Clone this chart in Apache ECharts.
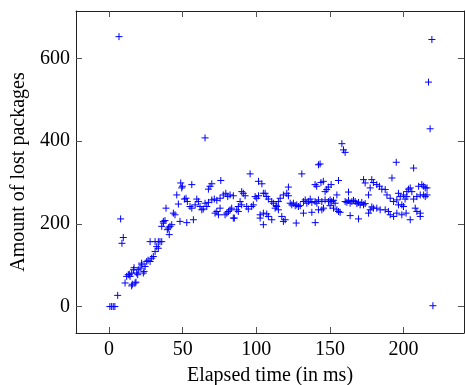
<!DOCTYPE html>
<html>
<head>
<meta charset="utf-8">
<script src="https://cdn.jsdelivr.net/npm/echarts@6/dist/echarts.min.js"></script>
<style>html,body{margin:0;padding:0;background:#fff}#c{width:465px;height:385px}</style>
</head>
<body>
<div id="c"></div>
<script>
const xTitle = "Elapsed time (in ms)";
const yTitle = "Amount of lost packages";
const xTicks = [0, 50, 100, 150, 200];
const yTicks = [0, 200, 400, 600];
const xRange = [-22.4, 241];
const yRange = [-64, 715];

const elapsedMs = [0.6,1.8,2.9,4,5.9,6.8,7.9,8.8,9.7,
10.9,12,13.1,13.8,14.3,15.4,15.4,15.8,16.6,17,17.7,18.3,18.8,19.5,19.9,21.1,22.2,22.2,23.3,23.8,24.5,25.6,26.5,27.9,27.9,29,30.1,31.3,31.3,32.4,33.5,33.5,34.6,35.8,35.8,36.9,36.9,38,38.7,39.6,40.3,40.9,41.4,42.6,43.7,44.8,46,47.1,48.2,48.7,49.4,49.8,
51.2,52.3,52.8,53.2,55,56.2,56.2,57.3,58.5,59.6,60.7,61.8,63,64,65.2,65.2,66.4,67.5,67.5,68.6,69.8,69.8,71.5,72,73.2,73.2,74.3,75.4,75.4,75.9,77.6,78.8,79.3,80,80.6,81.1,82.2,82.2,83.3,84.4,84.4,85.1,86.7,87.8,87.8,89,90.1,90.1,91.2,92.4,93.5,94.6,95.8,96.9,98,99.2,
100.3,101.5,101.5,102.6,102.6,103.8,104.8,104.8,104.8,106,107.1,107.1,108.2,108.2,110.5,110.5,111.6,112.8,113.5,113.9,115,115,116.2,117.3,118.4,118.4,119.6,120.7,121.8,121.8,123,124.1,125.2,126.4,127.1,127.5,128.6,129.8,130.9,132,132,133.2,134.3,135.5,136.6,137.7,137.7,139.9,139.9,140,141,141.1,142.2,142.2,142.2,143.3,143.9,144.5,144.5,145.5,145.6,146.7,146.7,147.8,148.9,149,
150.1,150.1,150.8,151.2,152.4,152.4,153.5,154.7,154.7,155.8,155.8,156.9,158.1,159.2,160.3,160.3,161.5,162.6,162.6,163.7,163.7,164.9,166,167.1,168.3,169.4,169.4,170.5,171.6,172.8,172.8,173.9,173.9,176.2,176.2,177.3,177.3,178.4,178.4,179.5,179.5,181.8,181.8,183.6,184.1,185.2,187.5,187.5,188.7,189.7,190.9,190.9,192.1,193.2,193.2,195,195.4,195.4,196.5,196.5,197.7,198.8,198.8,199.9,199.9,
201,201.7,202.2,202.2,203.3,204.5,204.5,205.6,206.8,206.8,207.9,209,209,210.2,211.3,211.3,211.3,212.4,213.6,213.6,214.7,214.7,215.9,215.9,216.9,218,219.2,219.9];

const lostPackages = [0,0,0,0,27,653,212,153,167,
57,73,77,78,73,81,50,54,89,94,57,59,81,77,89,93,101,105,81,85,97,109,112,109,157,117,121,133,157,145,141,157,157,194,157,202,206,208,238,186,190,174,194,198,226,222,270,248,206,299,287,291,
260,262,203,254,242,238,295,210,246,260,254,242,234,236,250,408,242,252,284,291,297,258,260,226,257,230,222,262,238,305,270,222,274,226,266,230,270,234,238,268,214,214,234,242,230,254,278,246,274,268,242,236,321,242,246,266,
262,303,268,214,222,297,274,198,226,274,266,224,260,218,254,210,250,238,244,242,254,234,262,218,270,206,210,274,289,268,250,246,250,244,202,246,242,244,321,254,226,258,250,254,260,252,228,295,254,203,291,250,343,258,234,345,300,254,234,303,238,278,258,283,289,254,
258,244,295,254,257,238,250,270,234,305,230,228,394,379,373,254,252,277,257,250,220,254,257,254,249,252,212,246,252,307,246,299,249,270,226,287,234,307,241,300,238,295,238,291,234,284,283,234,270,230,262,222,311,254,218,349,258,226,274,246,266,246,222,270,242,
260,226,278,266,284,287,210,278,335,260,238,266,230,291,270,218,226,295,291,270,287,266,287,270,543,430,646,2];

const points = elapsedMs.map((x, i) => [x, lostPackages[i]]);

const chart = echarts.init(document.getElementById('c'), null, {renderer: 'canvas'});
const font = '"Liberation Serif", "Times New Roman", serif';
const frame = {show: true, onZero: false, lineStyle: {color: '#222', width: 1}};
const tickIn = (vals) => ({show: true, inside: true, length: 6, customValues: vals, lineStyle: {color: '#555', width: 1}});

chart.setOption({
  animation: false,
  backgroundColor: '#fff',
  grid: {left: 76, right: 1, top: 11, bottom: 52, containLabel: false, outerBoundsMode: 'none'},
  xAxis: [{
    type: 'value', min: xRange[0], max: xRange[1], position: 'bottom',
    axisLine: frame, axisTick: tickIn(xTicks),
    axisLabel: {customValues: xTicks, color: '#000', fontFamily: font, fontSize: 20, margin: 7},
    splitLine: {show: false},
    name: xTitle, nameLocation: 'middle', nameGap: 33,
    nameTextStyle: {color: '#000', fontFamily: font, fontSize: 20}
  }, {
    type: 'value', min: xRange[0], max: xRange[1], position: 'top',
    axisLine: frame, axisTick: tickIn(xTicks),
    axisLabel: {show: false}, splitLine: {show: false}
  }],
  yAxis: [{
    type: 'value', min: yRange[0], max: yRange[1], position: 'left',
    axisLine: frame, axisTick: tickIn(yTicks),
    axisLabel: {customValues: yTicks, color: '#000', fontFamily: font, fontSize: 20, margin: 6},
    splitLine: {show: false},
    name: yTitle, nameLocation: 'middle', nameGap: 47, nameRotate: 90,
    nameTextStyle: {color: '#000', fontFamily: font, fontSize: 20}
  }, {
    type: 'value', min: yRange[0], max: yRange[1], position: 'right',
    axisLine: frame, axisTick: tickIn(yTicks),
    axisLabel: {show: false}, splitLine: {show: false}
  }],
  series: [{
    type: 'scatter',
    xAxisIndex: 0, yAxisIndex: 0,
    data: points,
    symbol: 'path://M0,5L10,5M5,0L5,10',
    symbolSize: 7,
    itemStyle: {color: 'rgba(0,0,0,0)', borderColor: '#0000ff', borderWidth: 1, opacity: 1},
    emphasis: {disabled: true}
  }]
});
</script>
</body>
</html>
